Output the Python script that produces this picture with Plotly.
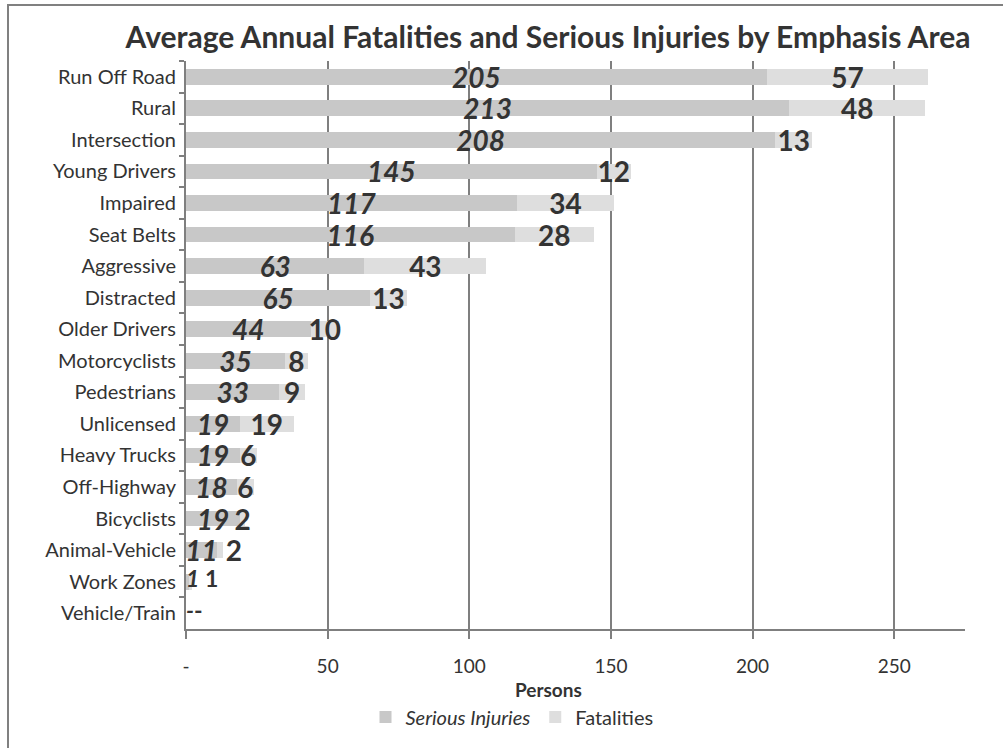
import plotly.graph_objects as go

categories = ["Run Off Road", "Rural", "Intersection", "Young Drivers", "Impaired",
              "Seat Belts", "Aggressive", "Distracted", "Older Drivers", "Motorcyclists",
              "Pedestrians", "Unlicensed", "Heavy Trucks", "Off-Highway", "Bicyclists",
              "Animal-Vehicle", "Work Zones", "Vehicle/Train"]
serious_injuries = [205, 213, 208, 145, 117, 116, 63, 65, 44, 35, 33, 19, 19, 18, 19, 11, 1, 0]
fatalities = [57, 48, 13, 12, 34, 28, 43, 13, 10, 8, 9, 19, 6, 6, 2, 2, 1, 0]
x_tickvals = [0, 50, 100, 150, 200, 250]
x_ticktext = ["-", "50", "100", "150", "200", "250"]

FONT = "Lato"
DARK = "#333333"
W, H = 1003, 748
L, R, T, B = 186, 38, 61, 119
LABEL_SIZE = 28

def lab(v):
    return "-" if v == 0 else str(v)

totals = [s + f for s, f in zip(serious_injuries, fatalities)]
tiny = [t < 3 for t in totals]          # both labels written side by side from the axis
narrow = [3 <= t < 15 for t in totals]  # fatalities label just past the bar end

fig = go.Figure()
fig.add_trace(go.Bar(
    y=categories, x=serious_injuries, orientation="h", name="<i>Serious Injuries</i>",
    marker=dict(color="#c8c8c8", line=dict(width=0)),
    text=["" if tn else lab(v) for v, tn in zip(serious_injuries, tiny)],
    textposition="inside",
    insidetextanchor="middle", textangle=0, constraintext="none", cliponaxis=False,
    textfont=dict(family=FONT, size=LABEL_SIZE, color=DARK, weight="bold", style="italic"),
))
fig.add_trace(go.Bar(
    y=categories, x=fatalities, orientation="h", name="Fatalities",
    marker=dict(color="#dedede", line=dict(width=0)),
    text=["" if tn else lab(v) for v, tn in zip(fatalities, tiny)],
    textposition=["outside" if n else "inside" for n in narrow],
    insidetextanchor="middle", textangle=0, constraintext="none", cliponaxis=False,
    textfont=dict(family=FONT, size=LABEL_SIZE, color=DARK, weight="bold"),
    outsidetextfont=dict(family=FONT, size=LABEL_SIZE, color=DARK, weight="bold"),
))
tiny_idx = [i for i, tn in enumerate(tiny) if tn]
fig.add_trace(go.Scatter(
    x=[0 for _ in tiny_idx],
    y=[categories[i] for i in tiny_idx],
    text=["<i>" + lab(serious_injuries[i]) + "</i>" +
          ("" if serious_injuries[i] == 0 else " ") + lab(fatalities[i]) for i in tiny_idx],
    mode="text", textposition="middle right", showlegend=False, hoverinfo="skip",
    cliponaxis=False,
    textfont=dict(family=FONT, size=23, color=DARK, weight="bold"),
))

fig.update_layout(
    width=W, height=H, barmode="stack", bargap=0.5,
    margin=dict(l=L, r=R, t=T, b=B, pad=0),
    paper_bgcolor="white", plot_bgcolor="white",
    font=dict(family=FONT, color=DARK),
    title=dict(text="<b>Average Annual Fatalities and Serious Injuries by Emphasis Area</b>",
               font=dict(family=FONT, size=30, color=DARK),
               x=548 / W, xref="container", xanchor="center",
               y=1 - 37 / H, yref="container", yanchor="middle"),
    legend=dict(orientation="h", x=(512 - L) / (W - L - R), xanchor="center",
                y=-(717 - (H - B)) / (H - T - B), yanchor="middle",
                font=dict(family=FONT, size=20, color=DARK),
                itemwidth=30, traceorder="normal", bgcolor="rgba(0,0,0,0)"),
    showlegend=True,
)
fig.update_xaxes(
    range=[0, 275], tickvals=x_tickvals, ticktext=x_ticktext,
    showgrid=True, gridcolor="#7f7f7f", gridwidth=2,
    showline=True, linecolor="#7f7f7f", linewidth=2,
    ticks="outside", ticklen=8, tickwidth=2, tickcolor="#7f7f7f",
    ticklabelstandoff=11, tickfont=dict(family=FONT, size=19, color=DARK),
    zeroline=False, fixedrange=True,
)
fig.update_yaxes(
    categoryorder="array", categoryarray=categories,
    range=[len(categories) - 0.5, -0.5], autorange=False,
    showline=True, linecolor="#7f7f7f", linewidth=2,
    ticks="outside", tickson="boundaries", ticklen=5, tickwidth=2, tickcolor="#7f7f7f",
    tickfont=dict(family=FONT, size=20, color=DARK), ticklabelstandoff=4,
    showgrid=False,
)
fig.add_annotation(text="<b>Persons</b>", xref="paper", yref="paper",
                   x=(548 - L) / (W - L - R), y=-(689 - (H - B)) / (H - T - B),
                   xanchor="center", yanchor="middle", showarrow=False,
                   font=dict(family=FONT, size=19, color=DARK))
# chart border (top and left edges visible in the reference)
fig.add_shape(type="rect", xref="paper", yref="paper",
              x0=-(L - 8) / (W - L - R), x1=1 + (R + 20) / (W - L - R),
              y0=-(B + 20) / (H - T - B), y1=1 + (T - 5) / (H - T - B),
              line=dict(color="#808080", width=2), layer="below")
fig.write_html("out.html")
